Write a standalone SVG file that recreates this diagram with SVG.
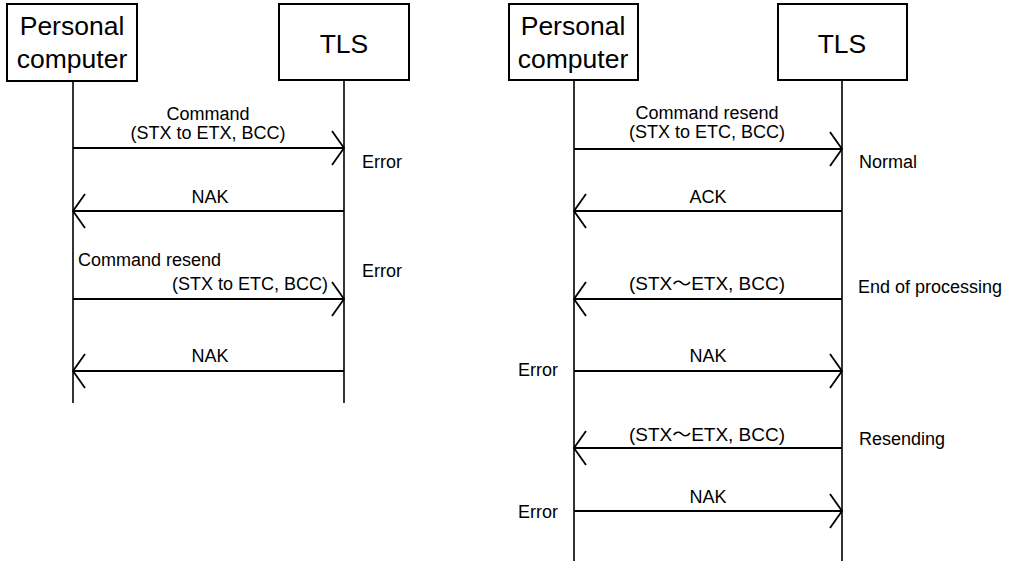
<svg xmlns="http://www.w3.org/2000/svg" width="1012" height="561" viewBox="0 0 1012 561">
  <style>
    .box { fill: #fff; stroke: #000; stroke-width: 2; }
    .life { stroke: #000; stroke-width: 1.6; fill: none; }
    .msg { stroke: #000; stroke-width: 1.8; fill: none; }
    .head { stroke: #000; stroke-width: 1.8; fill: none; }
    .hd { font-family: "Liberation Sans", Arial, sans-serif; font-size: 26.5px; fill: #000; text-anchor: middle; }
    .lb { font-family: "Liberation Sans", Arial, "Noto Sans CJK JP", sans-serif; font-size: 18px; fill: #000; }
    .mid { text-anchor: middle; }
    .end { text-anchor: end; }
  </style>
  <defs>
    <!-- open chevron heads, tip at the origin -->
    <path id="headR" class="head" d="M-12,-17 L0,0 L-12,17"/>
    <path id="headL" class="head" d="M12,-17 L0,0 L12,17"/>
  </defs>
  <rect width="1012" height="561" fill="#fff"/>

  <!-- left sequence: participants -->
  <g id="pc-left">
    <rect class="box" x="7" y="4" width="130" height="77"/>
    <text class="hd" x="72" y="35">Personal</text>
    <text class="hd" x="72" y="68">computer</text>
  </g>
  <g id="tls-left">
    <rect class="box" x="279" y="4" width="130" height="76"/>
    <text class="hd" x="344" y="53">TLS</text>
  </g>

  <!-- right sequence: participants -->
  <g id="pc-right">
    <rect class="box" x="509" y="4" width="129" height="76"/>
    <text class="hd" x="573" y="35">Personal</text>
    <text class="hd" x="573" y="68">computer</text>
  </g>
  <g id="tls-right">
    <rect class="box" x="778" y="4" width="129" height="76"/>
    <text class="hd" x="842" y="53">TLS</text>
  </g>

  <!-- lifelines and messages -->
  <g id="connectors">
    <line class="life" x1="73" y1="81" x2="73" y2="403"/>
    <line class="life" x1="344" y1="80" x2="344" y2="403"/>
    <line class="life" x1="574" y1="80" x2="574" y2="561"/>
    <line class="life" x1="842" y1="80" x2="842" y2="561"/>

    <line class="msg" x1="73" y1="148" x2="344" y2="148"/>
    <use href="#headR" x="344" y="148"/>
    <line class="msg" x1="344" y1="211" x2="73" y2="211"/>
    <use href="#headL" x="73" y="211"/>
    <line class="msg" x1="73" y1="299" x2="344" y2="299"/>
    <use href="#headR" x="344" y="299"/>
    <line class="msg" x1="344" y1="371" x2="73" y2="371"/>
    <use href="#headL" x="73" y="371"/>

    <line class="msg" x1="574" y1="149" x2="842" y2="149"/>
    <use href="#headR" x="842" y="149"/>
    <line class="msg" x1="842" y1="211" x2="574" y2="211"/>
    <use href="#headL" x="574" y="211"/>
    <line class="msg" x1="842" y1="299" x2="574" y2="299"/>
    <use href="#headL" x="574" y="299"/>
    <line class="msg" x1="574" y1="371" x2="842" y2="371"/>
    <use href="#headR" x="842" y="371"/>
    <line class="msg" x1="842" y1="448" x2="574" y2="448"/>
    <use href="#headL" x="574" y="448"/>
    <line class="msg" x1="574" y1="511" x2="842" y2="511"/>
    <use href="#headR" x="842" y="511"/>
  </g>

  <!-- left sequence: labels -->
  <g id="labels-left">
    <text class="lb mid" x="208" y="120">Command</text>
    <text class="lb mid" x="208" y="139">(STX to ETX, BCC)</text>
    <text class="lb" x="362" y="168">Error</text>
    <text class="lb mid" x="210" y="203">NAK</text>
    <text class="lb" x="78" y="266">Command resend</text>
    <text class="lb end" x="328" y="290">(STX to ETC, BCC)</text>
    <text class="lb" x="362" y="277">Error</text>
    <text class="lb mid" x="210" y="362">NAK</text>
  </g>

  <!-- right sequence: labels -->
  <g id="labels-right">
    <text class="lb mid" x="707" y="119">Command resend</text>
    <text class="lb mid" x="707" y="138">(STX to ETC, BCC)</text>
    <text class="lb" x="859" y="168">Normal</text>
    <text class="lb mid" x="708" y="203">ACK</text>
    <text class="lb" x="629" y="290" textLength="156" lengthAdjust="spacingAndGlyphs">(STX～ETX, BCC)</text>
    <text class="lb" x="858" y="293">End of processing</text>
    <text class="lb mid" x="708" y="362">NAK</text>
    <text class="lb" x="518" y="376">Error</text>
    <text class="lb" x="629" y="441" textLength="156" lengthAdjust="spacingAndGlyphs">(STX～ETX, BCC)</text>
    <text class="lb" x="859" y="445">Resending</text>
    <text class="lb mid" x="708" y="503">NAK</text>
    <text class="lb" x="518" y="518">Error</text>
  </g>
</svg>
